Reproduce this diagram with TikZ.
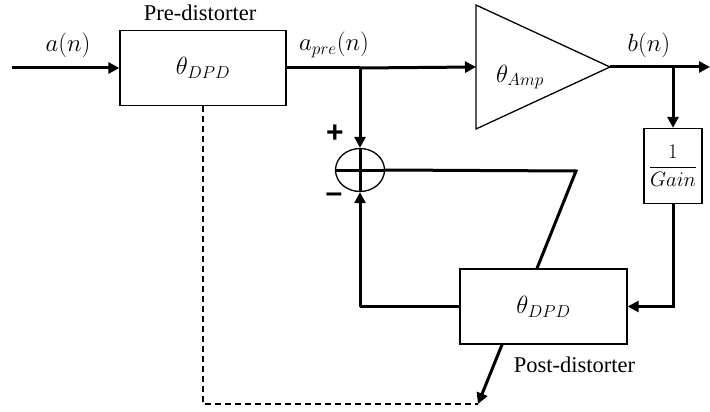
\documentclass[tikz,border=0pt]{standalone}
\usepackage{fontspec}
\setmainfont{Liberation Serif}
\newfontfamily\signfont{Liberation Sans}
\usetikzlibrary{arrows.meta,shapes.geometric,calc}
\begin{document}
\begin{tikzpicture}[x=1pt,y=-1pt,
  box/.style={draw, line width=1.3pt, inner sep=0pt},
  sig/.style={line width=3pt},
  sigarr/.style={line width=3pt, -{Triangle[length=11pt,width=11pt]}},
  lbl/.style={inner sep=0pt, font=\fontsize{23}{27}\selectfont},
  txt/.style={inner sep=0pt, font=\fontsize{22.5}{26}\selectfont}]
\useasboundingbox (0,0) rectangle (710,412);
% blocks
\node[box, minimum width=166pt, minimum height=75pt, lbl] (pre) at (203,68) {$\theta_{DPD}$};
\node[box, minimum width=167pt, minimum height=75pt, lbl] (post) at (543.5,306.5) {$\theta_{DPD}$};
\node[box, minimum width=58pt, minimum height=75pt, font=\fontsize{20}{24}\selectfont] (gain) at (673,166) {$\displaystyle\frac{1}{Gain}$};
\node[draw, ellipse, line width=1.3pt, minimum width=49pt, minimum height=43pt, inner sep=0pt] (sum) at (360,170) {};
\draw[sig] (sum.north) -- (sum.south) (sum.west) -- (sum.east);
% amplifier
\coordinate (ampin) at (476,67);
\coordinate (amptop) at (476,5);
\coordinate (ampbot) at (476,129);
\coordinate (ampout) at (610,67);
\draw[line width=1.3pt, line join=miter] (amptop) -- (ampout) -- (ampbot) -- cycle;
\node[lbl] (amplbl) at (520,77) {$\theta_{Amp}$};
% labels
\node[txt] (prelbl) at (200,12.5) {Pre-distorter};
\node[txt] (postlbl) at (574.5,365) {Post-distorter};
\node[lbl] (an) at (68,45) {$a(n)$};
\node[lbl] (apre) at (334,45) {$a_{pre}(n)$};
\node[lbl] (bn) at (649,45) {$b(n)$};
\node[inner sep=0pt, font=\signfont\bfseries\fontsize{30}{30}\selectfont] (plus) at (335,134) {+};
\node[inner sep=0pt, font=\signfont\bfseries\fontsize{30}{30}\selectfont] (minus) at (334,198) {\textendash};
% coordinates
\coordinate (in) at (12,68);
\coordinate (split1) at (360,68);
\coordinate (split2) at (673,67);
\coordinate (out) at (710,67);
\coordinate (corner) at (576,171);
\coordinate (fbk) at (360,306.5);
\coordinate (dd) at (478,404);
% connectors
\draw[sigarr] (in) -- (pre.west);
\draw[sig] (pre.east) -- (split1);
\draw[sigarr] (split1) -- (ampin);
\draw[sigarr] (split1) -- (sum.north);
\draw[sig] (ampout) -- (split2);
\draw[sigarr] (split2) -- (out);
\draw[sigarr] (split2) -- (gain.north);
\draw[sigarr] (gain.south) |- (post.east);
\draw[sig, line join=miter] (sum.east) -- (corner) -- ([xshift=-6.5pt]post.north);
\draw[sig] (post.west) -- (fbk);
\draw[sigarr] (fbk) -- (sum.south);
\draw[sigarr] ([xshift=-41.5pt]post.south) -- (dd);
\draw[line width=1.2pt, dash pattern=on 6pt off 4pt] (pre.south) |- (dd);
\end{tikzpicture}
\end{document}
